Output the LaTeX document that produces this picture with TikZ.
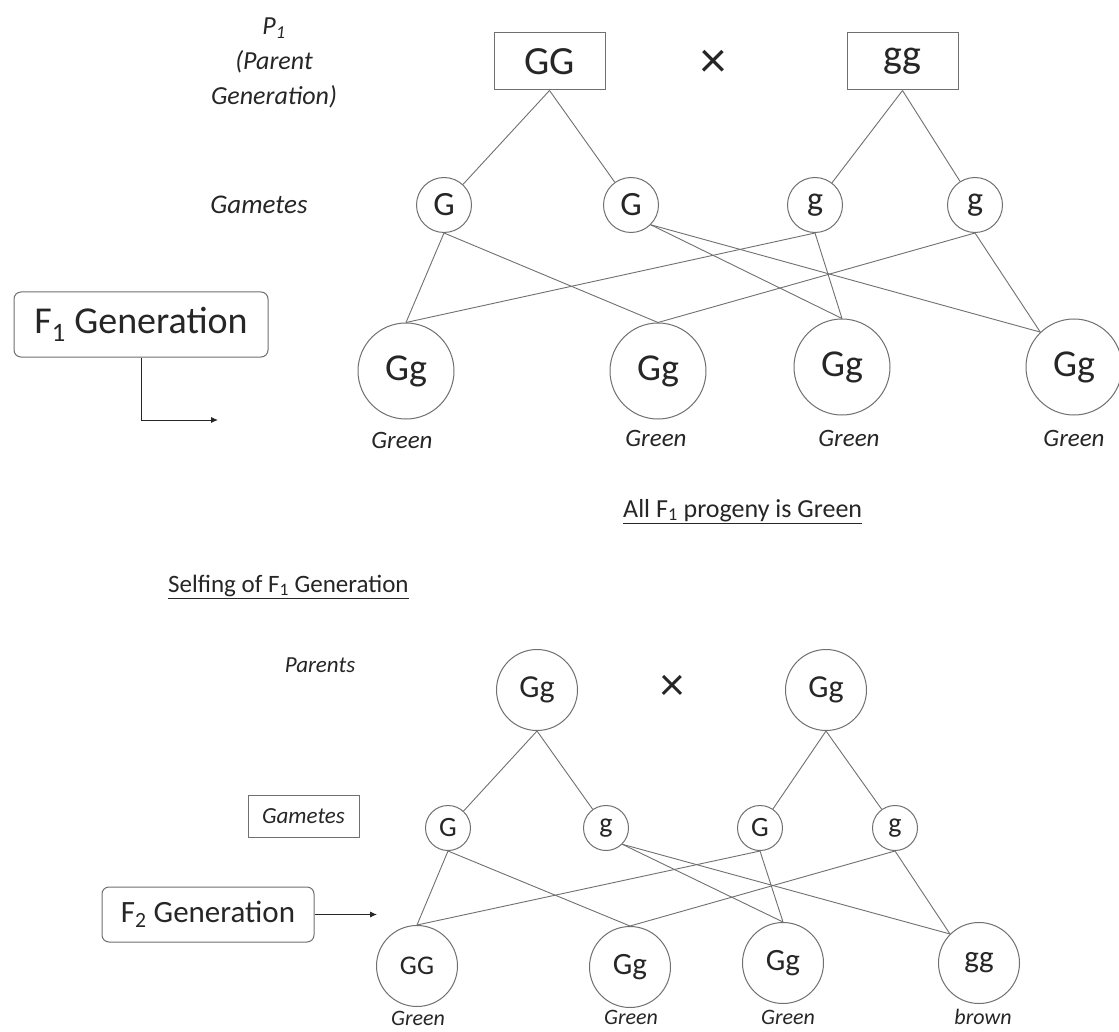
\documentclass[tikz,border=0pt]{standalone}
\usepackage{fontspec}
\setmainfont{Carlito}
\usetikzlibrary{arrows.meta}
\definecolor{ln}{HTML}{707070}
\definecolor{tx}{HTML}{262626}
\begin{document}
\begin{tikzpicture}[x=1pt,y=-1pt,
  every node/.style={text=tx},
  conn/.style={draw=ln, line width=0.9pt},
  pbox/.style={draw=ln, line width=1pt, rectangle, minimum width=111pt, minimum height=57pt, inner sep=0pt, font=\fontsize{40}{44}\selectfont},
  gamT/.style={circle, draw=ln, line width=1pt, minimum size=55pt, inner sep=0pt, font=\fontsize{34}{36}\selectfont},
  offT/.style={circle, draw=ln, line width=1pt, minimum size=96pt, inner sep=0pt, font=\fontsize{38}{40}\selectfont},
  lblT/.style={inner sep=0pt, font=\itshape\fontsize{25}{28}\selectfont},
  genbox/.style={draw=ln, line width=1pt, rectangle, rounded corners=7pt, inner sep=0pt, font=\fontsize{38}{40}\selectfont},
  parB/.style={circle, draw=ln, line width=1pt, minimum size=81pt, inner sep=0pt, font=\fontsize{32}{34}\selectfont},
  gamB/.style={circle, draw=ln, line width=1pt, minimum size=45pt, inner sep=0pt, font=\fontsize{28}{30}\selectfont},
  offB/.style={circle, draw=ln, line width=1pt, minimum size=81pt, inner sep=0pt, font=\fontsize{31}{34}\selectfont},
  lblB/.style={inner sep=0pt, font=\itshape\fontsize{22}{24}\selectfont},
  cross/.style={inner sep=0pt, font=\fontsize{52}{52}\selectfont},
  arr/.style={draw=black!85, line width=0.9pt, -{Latex[length=7pt,width=6pt]}}
]
\path[use as bounding box, fill=white] (0,0) rectangle (1119,1032);

% ---------- top: parent generation ----------
\node[lblT, align=center, font=\itshape\fontsize{26}{35}\selectfont] (p1lbl) at (274,63)
  {\textit{P}\textsubscript{\textit{1}}\\(Parent\\Generation)};
\node[pbox] (GG) at (549.5,61.5) {GG};
\node[cross] (x1) at (713,64) {×};
\node[pbox] (gg) at (902.5,61.5) {gg};

\node[lblT, font=\itshape\fontsize{27}{30}\selectfont] (gamlbl1) at (259,205) {Gametes};
\node[gamT] (ga) at (444,205) {G};
\node[gamT] (gb) at (631,205) {G};
\node[gamT] (gc) at (815,205) {g};
\node[gamT] (gd) at (975,205) {g};

\draw[conn] (GG.south) -- (ga);
\draw[conn] (GG.south) -- (gb);
\draw[conn] (gg.south) -- (gc);
\draw[conn] (gg.south) -- (gd);

% ---------- F1 ----------
\node[offT] (fa) at (406,371) {Gg};
\node[offT] (fb) at (658,371) {Gg};
\node[offT] (fc) at (842,367) {Gg};
\node[offT] (fd) at (1074,367) {Gg};
\node[lblT] (la) at (402,440) {Green};
\node[lblT] (lb) at (656,438) {Green};
\node[lblT] (lc) at (849,438) {Green};
\node[lblT] (ld) at (1074,438) {Green};

\draw[conn] (ga.south) -- (fa.north);
\draw[conn] (ga.south) -- (fb.north);
\draw[conn] (gb.-45) -- (fc.north);
\draw[conn] (gb.-45) -- (fd.134);
\draw[conn] (gc.south) -- (fa.north);
\draw[conn] (gc.south) -- (fc.north);
\draw[conn] (gd.south) -- (fb.north);
\draw[conn] (gd.south) -- (fd.134);

\node[genbox, minimum width=254pt, minimum height=65pt] (F1) at (141,324.5) {F\textsubscript{1} Generation};
\coordinate (F1end) at (218,420);
\draw[arr] (F1.south) |- (F1end);

\node[inner sep=0pt, anchor=base west, font=\fontsize{26}{28}\selectfont] (allg) at (623,517)
  {\underline{All F\textsubscript{1} progeny is Green}};

% ---------- bottom: selfing ----------
\node[inner sep=0pt, anchor=base west, font=\fontsize{25}{27}\selectfont] (self) at (168,592)
  {\underline{Selfing of F\textsubscript{1} Generation}};

\node[lblB, font=\itshape\fontsize{23}{25}\selectfont] (parlbl) at (320,665) {Parents};
\node[parB] (P1) at (537,690) {Gg};
\node[cross, font=\fontsize{48}{48}\selectfont] (x2) at (672,688) {×};
\node[parB] (P2) at (826,690) {Gg};

\node[draw=ln, line width=1pt, rectangle, minimum width=111pt, minimum height=42pt, inner sep=0pt,
      font=\itshape\fontsize{23}{25}\selectfont] (gamlbl2) at (303.5,816) {Gametes};
\node[gamB] (ba) at (448,828) {G};
\node[gamB] (bb) at (606,828) {g};
\node[gamB] (bc) at (760,828) {G};
\node[gamB] (bd) at (895,828) {g};

\draw[conn] (P1.south) -- (ba);
\draw[conn] (P1.south) -- (bb);
\draw[conn] (P2.south) -- (bc);
\draw[conn] (P2.south) -- (bd);

\node[offB, font=\fontsize{27}{29}\selectfont] (ca) at (417,966) {GG};
\node[offB] (cb) at (630,967) {Gg};
\node[offB] (cc) at (783,963) {Gg};
\node[offB] (cd) at (979,963) {gg};
\node[lblB] (ma) at (418,1018) {Green};
\node[lblB] (mb) at (631,1017) {Green};
\node[lblB] (mc) at (788,1017) {Green};
\node[lblB] (md) at (983,1017) {brown};

\draw[conn] (ba.south) -- (ca.north);
\draw[conn] (ba.south) -- (cb.north);
\draw[conn] (bb.-45) -- (cc.north);
\draw[conn] (bb.-45) -- (cd.135);
\draw[conn] (bc.south) -- (ca.north);
\draw[conn] (bc.south) -- (cc.north);
\draw[conn] (bd.south) -- (cb.north);
\draw[conn] (bd.south) -- (cd.135);

\node[genbox, minimum width=212pt, minimum height=55pt, font=\fontsize{31}{34}\selectfont] (F2) at (208,914.5) {F\textsubscript{2} Generation};
\coordinate (F2end) at (377,914.5);
\draw[arr] (F2.east) -- (F2end);
\end{tikzpicture}
\end{document}
